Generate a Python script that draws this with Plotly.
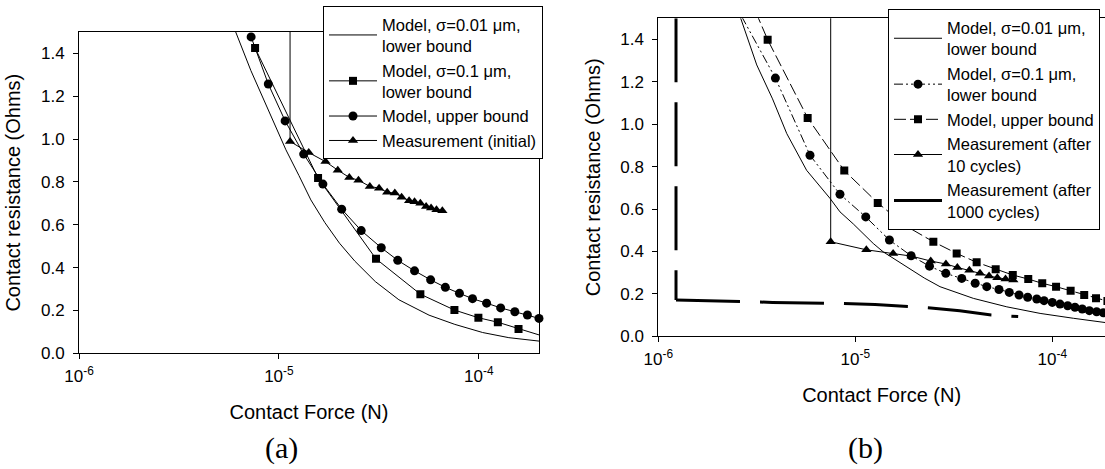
import numpy as np
import plotly.graph_objects as go

# ---------------- Panel (a) data ----------------
a_thin_F = [5.89e-6, 6.08e-6, 7.24e-6, 8.81e-6, 1.084e-5, 1.259e-5, 1.445e-5, 1.698e-5, 2.009e-5,
            2.399e-5, 3.034e-5, 3.981e-5, 5.636e-5, 7.586e-5, 1.045e-4, 1.413e-4, 2.0e-4]
a_thin_R = [1.55, 1.50, 1.32, 1.137, 0.95, 0.83, 0.716, 0.61, 0.514,
            0.43, 0.335, 0.25, 0.178, 0.135, 0.097, 0.073, 0.057]

a_sq_F = [7.6e-6, 1.57e-5, 3.06e-5, 5.1e-5, 7.55e-5, 9.95e-5, 1.245e-4, 1.58e-4, 2.2e-4]
a_sq_R = [1.425, 0.818, 0.441, 0.276, 0.202, 0.166, 0.145, 0.114, 0.074]

a_ci_F = [7.26e-6, 8.85e-6, 1.074e-5, 1.33e-5, 1.66e-5, 2.06e-5, 2.58e-5, 3.25e-5, 3.93e-5, 4.77e-5,
          5.74e-5, 6.8e-5, 8.0e-5, 9.3e-5, 1.094e-4, 1.286e-4, 1.514e-4, 1.75e-4, 2.0e-4]
a_ci_R = [1.477, 1.257, 1.085, 0.930, 0.790, 0.673, 0.573, 0.493, 0.434, 0.385,
          0.343, 0.308, 0.280, 0.255, 0.234, 0.212, 0.194, 0.179, 0.163]

a_tr_F = [1.137e-5, 1.137e-5, 1.41e-5, 1.71e-5, 1.97e-5, 2.25e-5, 2.5e-5, 2.85e-5, 3.17e-5, 3.48e-5,
          3.8e-5, 4.11e-5, 4.48e-5, 4.77e-5, 5.1e-5, 5.45e-5, 5.77e-5, 6.14e-5, 6.57e-5]
a_tr_R = [2.0, 0.989, 0.937, 0.895, 0.855, 0.821, 0.808, 0.779, 0.771, 0.752,
          0.748, 0.729, 0.712, 0.708, 0.701, 0.685, 0.678, 0.670, 0.665]

# ---------------- Panel (b) data ----------------
b_thin_F = [2.51e-6, 2.62e-6, 3.16e-6, 3.80e-6, 4.49e-6, 5.66e-6, 7.45e-6, 8.36e-6, 9.77e-6, 1.233e-5,
            1.387e-5, 1.824e-5, 2.239e-5, 2.692e-5, 3.972e-5, 5.875e-5, 8.670e-5, 1.279e-4, 1.866e-4, 1.995e-4]
b_thin_R = [1.56, 1.50, 1.28, 1.12, 0.956, 0.783, 0.65, 0.587, 0.53, 0.438,
            0.398, 0.33, 0.275, 0.234, 0.179, 0.139, 0.108, 0.085, 0.064, 0.061]

b_ci_F = [2.34e-6, 3.93e-6, 5.89e-6, 8.36e-6, 1.13e-5, 1.49e-5, 1.92e-5, 2.38e-5, 2.88e-5, 3.47e-5,
          4.06e-5, 4.65e-5, 5.36e-5, 6.05e-5, 6.78e-5, 7.50e-5, 8.34e-5, 9.08e-5, 1.0e-4, 1.094e-4,
          1.197e-4, 1.303e-4, 1.419e-4, 1.542e-4, 1.679e-4, 1.816e-4, 1.995e-4]
b_ci_R = [1.6, 1.218, 0.854, 0.670, 0.563, 0.454, 0.380, 0.331, 0.297, 0.273,
          0.250, 0.234, 0.221, 0.207, 0.195, 0.184, 0.176, 0.168, 0.160, 0.152,
          0.144, 0.137, 0.129, 0.121, 0.116, 0.111, 0.106]

b_sq_F = [2.90e-6, 3.59e-6, 5.73e-6, 8.79e-6, 1.30e-5, 1.81e-5, 2.49e-5, 3.27e-5, 4.13e-5, 5.16e-5,
          6.30e-5, 7.55e-5, 8.89e-5, 1.045e-4, 1.239e-4, 1.452e-4, 1.667e-4, 1.905e-4]
b_sq_R = [1.6, 1.399, 1.030, 0.782, 0.629, 0.520, 0.446, 0.391, 0.349, 0.316,
          0.289, 0.270, 0.250, 0.234, 0.215, 0.195, 0.179, 0.166]

b_tr_F = [7.50e-6, 7.50e-6, 1.138e-5, 1.556e-5, 1.932e-5, 2.415e-5, 2.884e-5, 3.296e-5, 3.793e-5,
          4.295e-5, 4.775e-5, 5.26e-5, 5.79e-5, 6.34e-5]
b_tr_R = [2.0, 0.446, 0.408, 0.391, 0.378, 0.355, 0.341, 0.325, 0.312,
          0.297, 0.284, 0.276, 0.270, 0.265]

b_thick_F = [1.23e-6, 1.23e-6, 1.78e-6, 2.60e-6, 3.80e-6, 5.62e-6, 8.71e-6, 1.26e-5, 1.86e-5,
             2.34e-5, 3.39e-5, 4.90e-5, 5.62e-5, 6.71e-5]
b_thick_R = [1.5, 0.171, 0.166, 0.164, 0.160, 0.159, 0.155, 0.150, 0.139,
             0.135, 0.120, 0.100, 0.097, 0.093]

# ---------------- labels ----------------
x_tickvals = [1e-6, 1e-5, 1e-4]
x_ticktext = ["10<sup>-6</sup>", "10<sup>-5</sup>", "10<sup>-4</sup>"]
y_tickvals = [0.0, 0.2, 0.4, 0.6, 0.8, 1.0, 1.2, 1.4]
x_title = "Contact Force (N)"
y_title = "Contact resistance (Ohms)"
names_a = ["Model, σ=0.01 μm,<br>lower bound", "Model, σ=0.1 μm,<br>lower bound",
           "Model, upper bound", "Measurement (initial)"]
names_b = ["Model, σ=0.01 μm,<br>lower bound", "Model, σ=0.1 μm,<br>lower bound",
           "Model, upper bound", "Measurement (after<br>10 cycles)",
           "Measurement (after<br>1000 cycles)"]
panel_labels = ["(a)", "(b)"]

FONT = "Liberation Sans, Arial, sans-serif"
SERIF = "Liberation Serif, Times New Roman, serif"
BLK = "black"
W, H = 1105, 469

fig = go.Figure()

# Panel (a)
fig.add_trace(go.Scatter(x=a_thin_F, y=a_thin_R, mode="lines", name=names_a[0],
                         line=dict(color=BLK, width=1), xaxis="x", yaxis="y", legend="legend"))
fig.add_trace(go.Scatter(x=a_sq_F, y=a_sq_R, mode="lines+markers", name=names_a[1],
                         line=dict(color=BLK, width=1), marker=dict(symbol="square", size=8, color=BLK),
                         xaxis="x", yaxis="y", legend="legend"))
fig.add_trace(go.Scatter(x=a_ci_F, y=a_ci_R, mode="lines+markers", name=names_a[2], cliponaxis=False,
                         line=dict(color=BLK, width=1), marker=dict(symbol="circle", size=9, color=BLK),
                         xaxis="x", yaxis="y", legend="legend"))
fig.add_trace(go.Scatter(x=a_tr_F, y=a_tr_R, mode="lines+markers", name=names_a[3],
                         line=dict(color=BLK, width=1), marker=dict(symbol="triangle-up", size=9, color=BLK),
                         xaxis="x", yaxis="y", legend="legend"))

# Panel (b)
fig.add_trace(go.Scatter(x=b_thin_F, y=b_thin_R, mode="lines", name=names_b[0],
                         line=dict(color=BLK, width=1), xaxis="x2", yaxis="y2", legend="legend2"))
fig.add_trace(go.Scatter(x=b_ci_F, y=b_ci_R, mode="lines+markers", name=names_b[1],
                         line=dict(color=BLK, width=1, dash="9px,3px,2px,3px,2px,3px"),
                         marker=dict(symbol="circle", size=9, color=BLK),
                         xaxis="x2", yaxis="y2", legend="legend2"))
fig.add_trace(go.Scatter(x=b_sq_F, y=b_sq_R, mode="lines+markers", name=names_b[2],
                         line=dict(color=BLK, width=1, dash="12px,4px"),
                         marker=dict(symbol="square", size=8, color=BLK),
                         xaxis="x2", yaxis="y2", legend="legend2"))
fig.add_trace(go.Scatter(x=b_tr_F, y=b_tr_R, mode="lines+markers", name=names_b[3],
                         line=dict(color=BLK, width=1), marker=dict(symbol="triangle-up", size=9, color=BLK),
                         xaxis="x2", yaxis="y2", legend="legend2"))
# after-1000-cycles measurement: drop segment and the horizontal run (dash pattern restarts at the corner)
thick_line = dict(color=BLK, width=3, dash="64px,20px")
fig.add_trace(go.Scatter(x=b_thick_F[:2], y=b_thick_R[:2], mode="lines", name=names_b[4],
                         line=thick_line, xaxis="x2", yaxis="y2", legend="legend2",
                         legendgroup="m1000", showlegend=False))
fig.add_trace(go.Scatter(x=b_thick_F[1:], y=b_thick_R[1:], mode="lines", name=names_b[4],
                         line=thick_line, xaxis="x2", yaxis="y2", legend="legend2",
                         legendgroup="m1000"))


def xaxis(domain, rng):
    return dict(type="log", domain=domain, range=rng, tickvals=x_tickvals, ticktext=x_ticktext,
                ticks="outside", ticklen=5, tickcolor=BLK, showline=True, linecolor=BLK, linewidth=1,
                mirror=True, showgrid=False, zeroline=False, ticklabelstandoff=2,
                tickfont=dict(family=FONT, size=17, color=BLK),
                title=dict(text=x_title, font=dict(family=FONT, size=20, color=BLK), standoff=20))


def yaxis(domain, anchor, mirror):
    return dict(domain=domain, range=[0, 1.5], tickvals=y_tickvals, tickformat=".1f", anchor=anchor,
                ticks="outside", ticklen=5, tickcolor=BLK, showline=True, linecolor=BLK, linewidth=1,
                mirror=mirror, showgrid=False, zeroline=False, ticklabelstandoff=5,
                tickfont=dict(family=FONT, size=17, color=BLK),
                title=dict(text=y_title, font=dict(family=FONT, size=20, color=BLK), standoff=14))


xa_dom = [79 / W, 539 / W]
ya_dom = [1 - 353.3 / H, 1 - 32 / H]
xb_dom = [658.3 / W, 1.0]
yb_dom = [1 - 336.3 / H, 1 - 18.3 / H]

legend_common = dict(bgcolor="white", bordercolor=BLK, borderwidth=1, xanchor="left", yanchor="top",
                     font=dict(family=FONT, size=16.5, color=BLK), tracegroupgap=0, itemwidth=48)

fig.update_layout(
    width=W, height=H, margin=dict(l=0, r=0, t=0, b=0, autoexpand=False),
    paper_bgcolor="white", plot_bgcolor="white",
    xaxis=dict(**xaxis(xa_dom, [-6, np.log10(2e-4)]), anchor="y"),
    yaxis=yaxis(ya_dom, "x", True),
    xaxis2=dict(**xaxis(xb_dom, [-6, -3.7325]), anchor="y2"),
    yaxis2=yaxis(yb_dom, "x2", False),
    legend=dict(**legend_common, x=323 / W, y=1 - 6 / H),
    legend2=dict(**legend_common, x=888 / W, y=1 - 9.3 / H),
    annotations=[
        dict(text=panel_labels[0], x=281 / W, y=1 - 448 / H, xref="paper", yref="paper",
             xanchor="center", yanchor="middle", showarrow=False,
             font=dict(family=SERIF, size=30, color=BLK)),
        dict(text=panel_labels[1], x=865 / W, y=1 - 448 / H, xref="paper", yref="paper",
             xanchor="center", yanchor="middle", showarrow=False,
             font=dict(family=SERIF, size=30, color=BLK)),
    ],
    showlegend=True,
)

fig.write_html("out.html", config={"displayModeBar": False},
               post_script="document.body.style.margin='0';")
